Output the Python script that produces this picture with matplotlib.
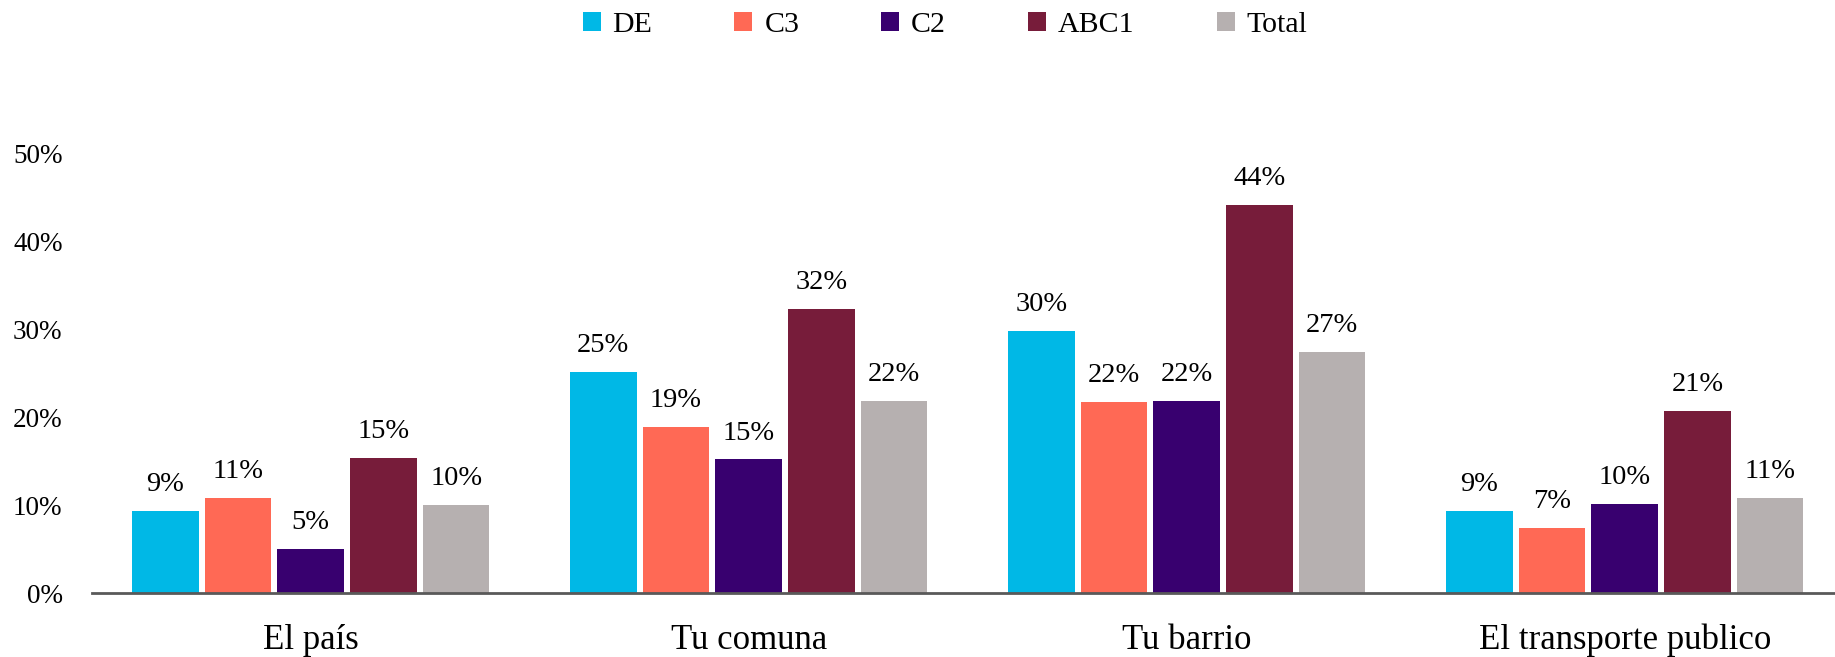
import numpy as np
import matplotlib.pyplot as plt
from matplotlib.ticker import PercentFormatter

plt.rcParams['font.family'] = ['Liberation Serif', 'DejaVu Serif']

categorias = ['El país', 'Tu comuna', 'Tu barrio', 'El transporte publico']
grupos = ['DE', 'C3', 'C2', 'ABC1', 'Total']
de = [9.4, 25.1, 29.8, 9.4]
c3 = [10.8, 18.9, 21.7, 7.4]
c2 = [5.0, 15.2, 21.8, 10.1]
abc1 = [15.4, 32.3, 44.1, 20.7]
total = [10.0, 21.8, 27.4, 10.8]
colores = ['#00B8E6', '#FF6955', '#38006F', '#771C3A', '#B6B0B0']

series = [de, c3, c2, abc1, total]

fig, ax = plt.subplots(figsize=(18.35, 6.57), dpi=100)
fig.subplots_adjust(left=0.05, right=1.0, bottom=0.097, top=0.767)

x = np.arange(len(categorias))
paso = 0.166
ancho = 0.152
for i, (vals, nombre, col) in enumerate(zip(series, grupos, colores)):
    pos = x + (i - 2) * paso
    barras = ax.bar(pos, vals, width=ancho, color=col, label=nombre)
    for b, v in zip(barras, vals):
        ax.annotate(f'{v:.0f}%', (b.get_x() + b.get_width() / 2, v),
                    xytext=(0, 10), textcoords='offset points',
                    ha='center', va='bottom', fontsize=20.5)

ax.set_xlim(-0.5, 3.48)
ax.set_ylim(0, 50)
ax.set_yticks(range(0, 51, 10))
ax.yaxis.set_major_formatter(PercentFormatter(decimals=0))
ax.set_xticks(x)
ax.set_xticklabels(categorias, fontsize=25)
ax.tick_params(axis='y', labelsize=19.5, length=0, pad=21)
ax.tick_params(axis='x', length=0, pad=22)
for s in ['top', 'right', 'left']:
    ax.spines[s].set_visible(False)
ax.spines['bottom'].set_color('#595959')
ax.spines['bottom'].set_linewidth(2)

fig.legend(loc='upper center', bbox_to_anchor=(0.515, 1.022), ncol=5, frameon=False,
           fontsize=21.5, handlelength=0.6, handleheight=0.6, handletextpad=0.4,
           columnspacing=2.75)

fig.savefig('out.png', dpi=100)
